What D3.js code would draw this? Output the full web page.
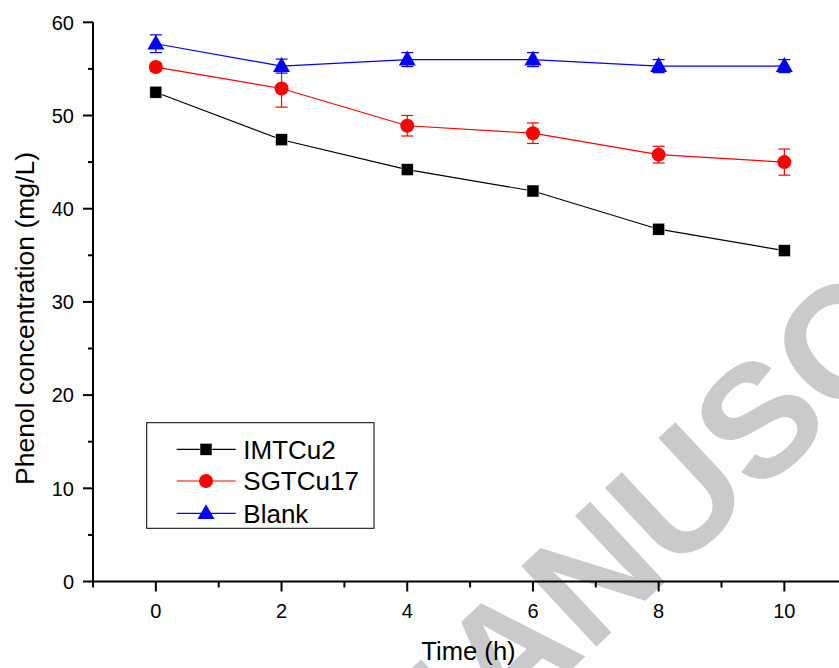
<!DOCTYPE html>
<html>
<head>
<meta charset="utf-8">
<script src="https://cdn.jsdelivr.net/npm/d3@7"></script>
<style>
  html, body { margin: 0; padding: 0; background: #fff; }
  svg { display: block; font-family: Arial, "Liberation Sans", Helvetica, sans-serif; }
</style>
</head>
<body>
<svg id="chart" width="839" height="668"></svg>
<script>
// Sampling times (h)
const times = [0, 2, 4, 6, 8, 10];

// Phenol concentration (mg/L) and standard deviations per series
const imtcu2 = [52.5, 47.4, 44.2, 41.9, 37.8, 35.5];
const imtcu2Err = [0.3, 0.3, 0.3, 0.3, 0.3, 0.3];
const sgtcu17 = [55.2, 52.9, 48.9, 48.1, 45.8, 45.0];
const sgtcu17Err = [0.4, 2.0, 1.1, 1.1, 0.9, 1.4];
const blank = [57.7, 55.3, 56.0, 56.0, 55.3, 55.3];
const blankErr = [0.95, 0.75, 0.75, 0.75, 0.7, 0.7];

const seriesNames = ["IMTCu2", "SGTCu17", "Blank"];
const seriesColors = ["#000000", "#ff0000", "#0000ff"];
const seriesSymbols = ["square", "circle", "triangle"];

const xTicks = [0, 2, 4, 6, 8, 10];
const yTicks = [0, 10, 20, 30, 40, 50, 60];

const svg = d3.select("#chart");

const x = d3.scaleLinear().domain([-1, 11]).range([93, 847.2]);
const y = d3.scaleLinear().domain([0, 60]).range([581.5, 22.3]);

// Background watermark
const wm = svg.append("g")
  .attr("transform", "translate(673,575) rotate(-43)")
  .attr("fill", "#c9cacc")
  .attr("font-weight", "bold")
  .attr("font-size", 160);
wm.append("text").attr("text-anchor", "end").text("ACCEPTED MAN");
wm.append("text").attr("text-anchor", "start").text("USCRIPT");

// Axes
const xAxis = svg.append("g").attr("transform", `translate(0,${y(0)})`);
xAxis.append("line").attr("x1", x(-1)).attr("x2", 839).attr("stroke", "#000").attr("stroke-width", 2);
xAxis.selectAll(".major").data(xTicks).join("line")
  .attr("x1", d => x(d)).attr("x2", d => x(d)).attr("y1", 0).attr("y2", 10)
  .attr("stroke", "#000").attr("stroke-width", 2);
xAxis.selectAll(".minor").data(d3.range(-1, 12, 2)).join("line")
  .attr("x1", d => x(d)).attr("x2", d => x(d)).attr("y1", 0).attr("y2", 6)
  .attr("stroke", "#000").attr("stroke-width", 2);
xAxis.selectAll("text").data(xTicks).join("text")
  .attr("x", d => x(d)).attr("y", 36.5).attr("text-anchor", "middle")
  .attr("font-size", 20).text(d => d);

const yAxis = svg.append("g").attr("transform", `translate(${x(-1)},0)`);
yAxis.append("line").attr("y1", y(0) + 1).attr("y2", y(60)).attr("stroke", "#000").attr("stroke-width", 2);
yAxis.selectAll(".major").data(yTicks).join("line")
  .attr("y1", d => y(d)).attr("y2", d => y(d)).attr("x1", 0).attr("x2", -10)
  .attr("stroke", "#000").attr("stroke-width", 2);
yAxis.selectAll(".minor").data(d3.range(5, 60, 10)).join("line")
  .attr("y1", d => y(d)).attr("y2", d => y(d)).attr("x1", 0).attr("x2", -5)
  .attr("stroke", "#000").attr("stroke-width", 2);
yAxis.selectAll("text").data(yTicks).join("text")
  .attr("x", -19).attr("y", d => y(d)).attr("dy", "0.36em").attr("text-anchor", "end")
  .attr("font-size", 20).text(d => d);

// Axis titles
svg.append("text").attr("x", 468.5).attr("y", 660).attr("text-anchor", "middle")
  .attr("font-size", 25.6).text("Time (h)");
svg.append("text").attr("transform", "translate(33.5,318.5) rotate(-90)")
  .attr("text-anchor", "middle").attr("font-size", 26.5).text("Phenol concentration (mg/L)");

// Marker shapes
function drawMarker(g, symbol, color) {
  if (symbol === "square") {
    g.append("rect").attr("x", -6).attr("y", -6).attr("width", 12).attr("height", 12)
      .attr("fill", color).attr("stroke", "#fff").attr("stroke-width", 0.5);
  } else if (symbol === "circle") {
    g.append("circle").attr("r", 7).attr("fill", color);
  } else {
    g.append("path").attr("d", "M0,-9L8.5,5.8L-8.5,5.8Z").attr("fill", color);
  }
}

const seriesData = [
  { values: imtcu2, err: imtcu2Err },
  { values: sgtcu17, err: sgtcu17Err },
  { values: blank, err: blankErr }
];

const line = d3.line().x(d => x(d.t)).y(d => y(d.v));

seriesData.forEach((s, i) => {
  const pts = times.map((t, j) => ({ t, v: s.values[j], e: s.err[j] }));
  const color = seriesColors[i];
  const g = svg.append("g");
  g.append("path").datum(pts).attr("d", line).attr("fill", "none")
    .attr("stroke", color).attr("stroke-width", 1.2);
  const eb = g.selectAll(".eb").data(pts).join("g");
  eb.append("line").attr("x1", d => x(d.t)).attr("x2", d => x(d.t))
    .attr("y1", d => y(d.v - d.e)).attr("y2", d => y(d.v + d.e))
    .attr("stroke", color).attr("stroke-width", 1.2);
  [-1, 1].forEach(sgn => {
    eb.append("line").attr("x1", d => x(d.t) - 6).attr("x2", d => x(d.t) + 6)
      .attr("y1", d => y(d.v + sgn * d.e)).attr("y2", d => y(d.v + sgn * d.e))
      .attr("stroke", color).attr("stroke-width", 1.2);
  });
  pts.forEach(p => {
    const m = g.append("g").attr("transform", `translate(${x(p.t)},${y(p.v)})`);
    drawMarker(m, seriesSymbols[i], color);
  });
});

// Legend
const legend = svg.append("g");
legend.append("rect").attr("x", 146.7).attr("y", 422.7).attr("width", 227.3).attr("height", 105.6)
  .attr("fill", "#fff").attr("stroke", "#000").attr("stroke-width", 1);
const rowY = [449.3, 481, 513.3];
seriesNames.forEach((name, i) => {
  const row = legend.append("g").attr("transform", `translate(0,${rowY[i]})`);
  row.append("line").attr("x1", 176.7).attr("x2", 235.7)
    .attr("stroke", seriesColors[i]).attr("stroke-width", 1.2);
  const m = row.append("g").attr("transform", "translate(206,0)");
  drawMarker(m, seriesSymbols[i], seriesColors[i]);
  row.append("text").attr("x", 243.3).attr("dy", "0.36em").attr("font-size", 26).text(name);
});
</script>
</body>
</html>
